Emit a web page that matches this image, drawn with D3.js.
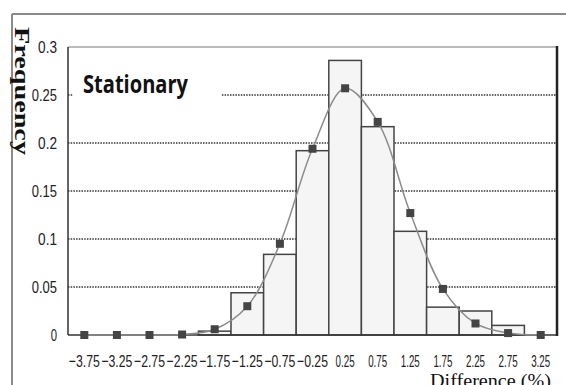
<!DOCTYPE html>
<html>
<head>
<meta charset="utf-8">
<script src="https://cdn.jsdelivr.net/npm/d3@7"></script>
<style>
  body { margin: 0; background: #fff; }
  svg { display: block; }
</style>
</head>
<body>
<div class="holder"></div>
<script>
// histogram of differences (%) with fitted normal curve
var bins = [-3.75, -3.25, -2.75, -2.25, -1.75, -1.25, -0.75, -0.25, 0.25, 0.75, 1.25, 1.75, 2.25, 2.75, 3.25]
var freq = [0, 0, 0, 0, 0.004, 0.044, 0.084, 0.192, 0.286, 0.217, 0.108, 0.029, 0.025, 0.010, 0]
var fit = [0, 0, 0, 0.0005, 0.006, 0.030, 0.095, 0.194, 0.257, 0.222, 0.127, 0.048, 0.012, 0.002, 0]
var yTicks = [0, 0.05, 0.1, 0.15, 0.2, 0.25, 0.3]
var gridTicks = [0.05, 0.1, 0.15, 0.2, 0.25]

function histogram() {

var width = 566,
    height = 385,
    pLeft = 68,
    pRight = 557,
    pTop = 47,
    pBottom = 335

var svg = d3.select('.holder')
  .append('svg')
  .attr('width', width)
  .attr('height', height)

var x = d3.scaleBand()
  .domain(bins)
  .range([pLeft, pRight])
  .padding(0)

var y = d3.scaleLinear()
  .domain([0, 0.3])
  .range([pBottom, pTop])

// outer frame
svg.append('line')
  .attr('x1', 12).attr('x2', width).attr('y1', 14).attr('y2', 14)
  .attr('stroke', '#8a8a8a').attr('stroke-width', 2)
svg.append('line')
  .attr('x1', 12).attr('x2', 12).attr('y1', 14).attr('y2', height)
  .attr('stroke', '#8a8a8a').attr('stroke-width', 2)

// dotted grid
svg.selectAll('.grid')
  .data(gridTicks)
  .enter()
  .append('line')
  .attr('class', 'grid')
  .attr('x1', pLeft).attr('x2', pRight)
  .attr('y1', function(d) { return y(d) })
  .attr('y2', function(d) { return y(d) })
  .attr('stroke', '#333')
  .attr('stroke-width', 1.3)
  .attr('stroke-dasharray', '1.5,1.2')

// plot border top (light)
svg.append('line')
  .attr('x1', pLeft).attr('x2', pRight).attr('y1', pTop).attr('y2', pTop)
  .attr('stroke', '#bbb').attr('stroke-width', 2)

// bars
svg.selectAll('.bar')
  .data(freq)
  .enter()
  .append('rect')
  .attr('class', 'bar')
  .attr('x', function(d, i) { return x(bins[i]) })
  .attr('width', x.bandwidth())
  .attr('y', function(d) { return y(d) })
  .attr('height', function(d) { return y(0) - y(d) })
  .attr('fill', '#f5f5f5')
  .attr('stroke', '#444')
  .attr('stroke-width', 1.5)
  .style('display', function(d) { return d > 0 ? null : 'none' })

// axes lines
svg.append('line')
  .attr('x1', pLeft).attr('x2', pLeft).attr('y1', pTop).attr('y2', pBottom)
  .attr('stroke', '#333').attr('stroke-width', 1.5)
svg.append('line')
  .attr('x1', pLeft).attr('x2', pRight).attr('y1', pBottom).attr('y2', pBottom)
  .attr('stroke', '#333').attr('stroke-width', 1.5)
svg.append('line')
  .attr('x1', pRight).attr('x2', pRight).attr('y1', pTop - 1).attr('y2', pBottom + 1)
  .attr('stroke', '#222').attr('stroke-width', 2.5)

// fitted curve
var line = d3.line()
  .x(function(d, i) { return x(bins[i]) + x.bandwidth() / 2 })
  .y(function(d) { return y(d) })
  .curve(d3.curveCatmullRom.alpha(0.5))

svg.append('path')
  .datum(fit)
  .attr('d', line)
  .attr('fill', 'none')
  .attr('stroke', '#8c8c8c')
  .attr('stroke-width', 1.5)

svg.selectAll('.dot')
  .data(fit)
  .enter()
  .append('rect')
  .attr('class', 'dot')
  .attr('x', function(d, i) { return x(bins[i]) + x.bandwidth() / 2 - 4 })
  .attr('y', function(d) { return y(d) - 4 })
  .attr('width', 8)
  .attr('height', 8)
  .attr('fill', '#444')

// y tick labels
svg.selectAll('.ylab')
  .data(yTicks)
  .enter()
  .append('text')
  .attr('class', 'ylab')
  .attr('x', 57)
  .attr('y', function(d) { return y(d) + 6 })
  .attr('text-anchor', 'end')
  .attr('textLength', function(d) { return String(d).length * 6.3 })
  .attr('lengthAdjust', 'spacingAndGlyphs')
  .style('font-family', 'Liberation Sans, Arial, sans-serif')
  .style('font-size', '16px')
  .attr('fill', '#222')
  .text(function(d) { return String(d) })

// x tick labels
svg.selectAll('.xlab')
  .data(bins)
  .enter()
  .append('text')
  .attr('class', 'xlab')
  .attr('x', function(d) { return x(d) + x.bandwidth() / 2 })
  .attr('y', 367)
  .attr('text-anchor', 'middle')
  .attr('textLength', function(d) { return d < 0 ? 31 : 19 })
  .attr('lengthAdjust', 'spacingAndGlyphs')
  .style('font-family', 'Liberation Sans, Arial, sans-serif')
  .style('font-size', '17px')
  .attr('fill', '#222')
  .text(function(d) { return (d < 0 ? '\u2212' : '') + Math.abs(d).toFixed(2) })

// label box
svg.append('rect')
  .attr('x', 73).attr('y', 68).attr('width', 148).attr('height', 32)
  .attr('fill', '#fff')
svg.append('text')
  .attr('x', 83)
  .attr('y', 93)
  .attr('textLength', 105)
  .attr('lengthAdjust', 'spacingAndGlyphs')
  .style('font-family', 'Open Sans, sans-serif')
  .style('font-weight', 'bold')
  .style('font-size', '25px')
  .attr('fill', '#111')
  .text('Stationary')

// axis titles
svg.append('text')
  .attr('transform', 'translate(15,27) rotate(90)')
  .attr('textLength', 128)
  .attr('lengthAdjust', 'spacingAndGlyphs')
  .style('font-family', 'Liberation Serif, serif')
  .style('font-weight', 'bold')
  .style('font-size', '20px')
  .attr('fill', '#111')
  .text('Frequency')

svg.append('text')
  .attr('x', 430)
  .attr('y', 387)
  .attr('textLength', 121)
  .attr('lengthAdjust', 'spacingAndGlyphs')
  .style('font-family', 'Liberation Serif, serif')
  .style('font-size', '19px')
  .attr('fill', '#111')
  .text('Difference (%)')
}

histogram()
</script>
</body>
</html>
